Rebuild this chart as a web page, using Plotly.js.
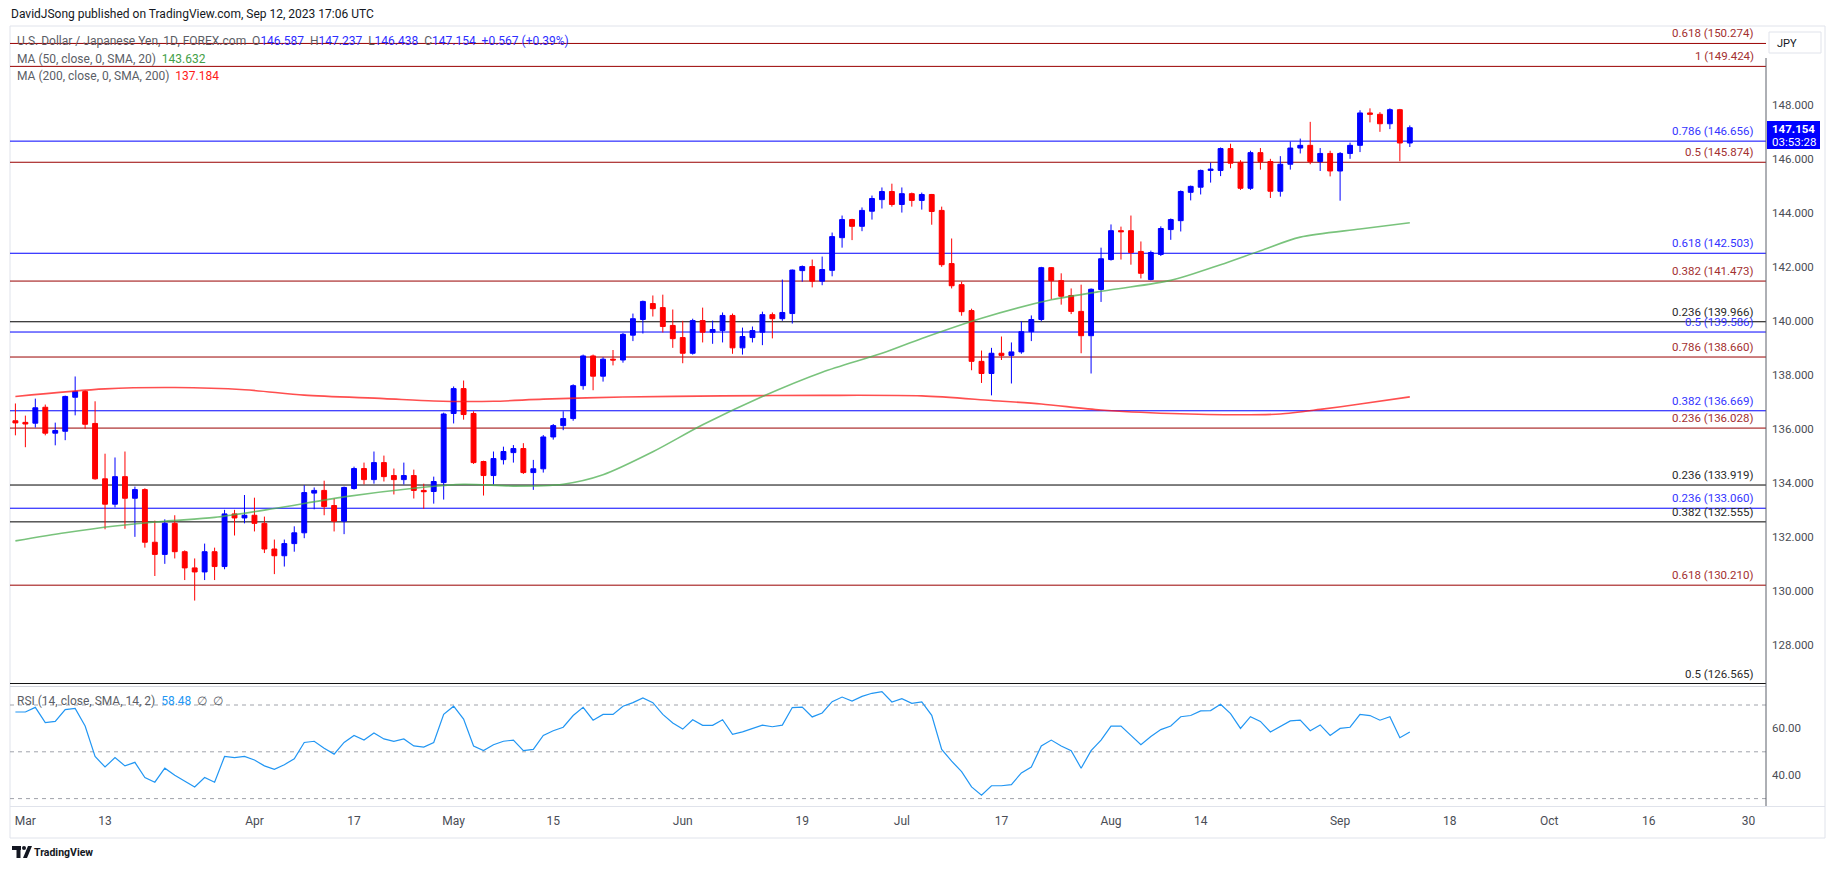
<!DOCTYPE html>
<html><head><meta charset="utf-8">
<script src="https://cdn.plot.ly/plotly-3.0.1.min.js"></script>
<style>html,body{margin:0;padding:0;background:#fff;}#chart{width:1835px;height:869px;}</style>
</head><body><div id="chart"></div>
<script>
// ---------------- DATA ----------------
const dates = [
'2023-02-28',
'2023-03-01','2023-03-02','2023-03-03','2023-03-06','2023-03-07','2023-03-08','2023-03-09','2023-03-10','2023-03-13','2023-03-14','2023-03-15','2023-03-16','2023-03-17','2023-03-20','2023-03-21','2023-03-22','2023-03-23','2023-03-24','2023-03-27','2023-03-28','2023-03-29','2023-03-30','2023-03-31',
'2023-04-03','2023-04-04','2023-04-05','2023-04-06','2023-04-07','2023-04-10','2023-04-11','2023-04-12','2023-04-13','2023-04-14','2023-04-17','2023-04-18','2023-04-19','2023-04-20','2023-04-21','2023-04-24','2023-04-25','2023-04-26','2023-04-27','2023-04-28',
'2023-05-01','2023-05-02','2023-05-03','2023-05-04','2023-05-05','2023-05-08','2023-05-09','2023-05-10','2023-05-11','2023-05-12','2023-05-15','2023-05-16','2023-05-17','2023-05-18','2023-05-19','2023-05-22','2023-05-23','2023-05-24','2023-05-25','2023-05-26','2023-05-29','2023-05-30','2023-05-31',
'2023-06-01','2023-06-02','2023-06-05','2023-06-06','2023-06-07','2023-06-08','2023-06-09','2023-06-12','2023-06-13','2023-06-14','2023-06-15','2023-06-16','2023-06-19','2023-06-20','2023-06-21','2023-06-22','2023-06-23','2023-06-26','2023-06-27','2023-06-28','2023-06-29','2023-06-30',
'2023-07-03','2023-07-04','2023-07-05','2023-07-06','2023-07-07','2023-07-10','2023-07-11','2023-07-12','2023-07-13','2023-07-14','2023-07-17','2023-07-18','2023-07-19','2023-07-20','2023-07-21','2023-07-24','2023-07-25','2023-07-26','2023-07-27','2023-07-28','2023-07-31',
'2023-08-01','2023-08-02','2023-08-03','2023-08-04','2023-08-07','2023-08-08','2023-08-09','2023-08-10','2023-08-11','2023-08-14','2023-08-15','2023-08-16','2023-08-17','2023-08-18','2023-08-21','2023-08-22','2023-08-23','2023-08-24','2023-08-25','2023-08-28','2023-08-29','2023-08-30','2023-08-31',
'2023-09-01','2023-09-04','2023-09-05','2023-09-06','2023-09-07','2023-09-08','2023-09-11','2023-09-12'];

const openP = [136.30,
136.24,136.21,136.80,135.84,135.91,137.17,137.38,136.20,134.15,133.21,134.23,133.43,133.75,131.80,131.35,132.50,131.45,130.85,130.70,131.45,130.90,132.85,132.70,
132.80,132.50,131.55,131.30,131.75,132.15,133.62,133.72,133.16,132.58,133.79,134.53,134.12,134.75,134.27,134.12,134.27,133.72,133.68,134.01,
136.57,137.49,136.57,134.79,134.27,134.86,135.12,135.27,134.38,134.52,135.70,136.12,136.38,137.60,138.70,137.95,138.58,138.55,139.47,140.05,140.64,140.49,139.83,
139.38,138.80,140.01,139.58,139.64,140.20,139.00,139.38,139.58,140.23,140.08,140.27,141.86,142.01,141.47,141.87,143.08,143.75,143.50,144.06,144.49,144.79,
144.31,144.71,144.46,144.68,144.09,142.12,141.34,140.38,138.50,138.05,138.80,138.72,138.85,139.60,140.05,141.97,141.49,140.94,140.35,139.45,141.16,
142.27,143.34,143.34,142.57,141.53,142.46,143.38,143.71,144.76,144.95,145.57,145.57,146.38,145.87,144.91,146.23,145.90,144.80,145.80,146.40,146.50,145.90,146.20,
145.55,146.20,146.50,147.70,147.65,147.30,147.82,146.587];

const highP = [136.94,
136.49,137.12,136.90,136.23,137.23,137.94,137.43,137.02,135.08,134.94,135.16,133.86,133.80,132.60,132.65,132.80,131.50,131.20,131.75,131.60,133.00,133.00,133.55,
133.45,132.75,131.90,131.90,132.39,133.91,133.83,134.08,133.42,133.86,134.60,134.75,135.16,135.01,134.53,134.75,134.49,133.97,134.23,136.60,
137.57,137.79,136.65,134.82,135.16,135.34,135.40,135.47,134.85,135.77,136.18,136.65,137.65,138.75,138.75,138.65,138.92,139.55,140.27,140.75,140.94,140.97,140.42,
140.00,140.08,140.49,140.01,140.31,140.27,139.75,139.79,140.34,140.31,141.53,141.90,142.05,142.27,142.38,143.27,143.90,143.78,144.20,144.64,144.94,145.08,
144.94,144.75,144.75,144.70,144.23,143.05,141.45,140.45,138.90,139.00,139.42,139.20,139.98,140.20,142.00,141.99,141.76,141.20,141.34,141.20,142.71,
143.57,143.49,143.90,142.94,142.60,143.50,143.79,144.83,145.01,145.60,145.86,146.42,146.56,145.95,146.30,146.40,146.00,146.10,146.64,146.75,147.37,146.40,146.30,
146.25,146.60,147.80,147.87,147.73,147.87,147.85,147.237];

const lowP = [135.76,
135.32,136.05,135.76,135.39,135.58,136.50,136.00,134.12,132.28,133.09,132.30,132.00,131.60,130.55,131.00,131.20,130.40,129.64,130.40,130.40,130.80,132.05,132.50,
132.20,131.40,130.62,130.90,131.45,131.95,133.02,132.80,132.20,132.10,133.75,133.94,133.97,134.05,133.57,133.94,133.42,133.04,133.23,133.38,
136.20,136.34,134.70,133.53,133.94,134.68,134.75,134.33,133.74,134.38,135.60,135.95,136.30,137.45,137.43,137.75,138.35,138.45,139.25,139.53,140.16,139.57,139.00,
138.43,138.75,139.20,139.15,139.20,138.78,138.75,139.20,139.10,139.35,140.00,139.90,141.45,141.24,141.32,141.65,142.71,142.99,143.32,143.75,144.16,144.23,
144.01,144.23,144.12,143.56,142.00,141.20,140.19,138.17,137.70,137.24,138.55,137.68,138.78,139.25,139.98,140.80,140.60,140.25,138.80,138.05,140.70,
142.23,142.27,142.08,141.57,141.50,142.40,143.00,143.31,144.46,144.68,145.12,145.36,145.65,144.85,144.85,145.60,144.55,144.60,145.60,146.20,145.80,145.55,145.35,
144.45,146.00,146.25,147.35,147.00,147.10,145.91,146.438];

const closeP = [136.22,
136.18,136.78,135.84,135.94,137.20,137.38,136.17,134.15,133.21,134.23,133.43,133.75,131.80,131.35,132.50,131.45,130.85,130.70,131.45,130.90,132.85,132.70,132.80,
132.50,131.55,131.30,131.75,132.15,133.64,133.72,133.12,132.58,133.83,134.53,134.12,134.75,134.23,134.12,134.27,133.72,133.67,134.05,136.55,
137.49,136.53,134.75,134.27,134.90,135.16,135.27,134.38,134.52,135.70,136.12,136.38,137.60,138.70,137.95,138.58,138.55,139.50,140.08,140.72,140.45,139.79,139.34,
138.80,140.01,139.58,139.68,140.20,139.00,139.42,139.64,140.23,140.08,140.31,141.88,142.01,141.47,141.90,143.12,143.75,143.50,144.09,144.53,144.79,144.31,
144.71,144.46,144.68,144.05,142.08,141.30,140.34,138.50,138.05,138.80,138.72,138.85,139.60,140.05,141.97,141.49,140.91,140.35,139.45,141.17,142.30,
143.34,143.30,142.53,141.76,142.53,143.42,143.75,144.79,144.98,145.57,145.62,146.38,145.84,144.91,146.23,145.90,144.80,145.80,146.40,146.50,145.90,146.20,145.55,
146.20,146.50,147.70,147.65,147.30,147.82,146.587,147.154];

const rsiVals = [67,
67,69,62.5,63,68,68.5,61,48,43.5,47.5,44,45.5,39,37,43,40,37.5,35,39,37,48,47.5,48,
46.5,44,42.5,44.5,47,54,54.5,51.5,49,54,57,55,58,55.5,54.5,55.5,52.5,52,54,66,
69.5,64,52.5,50.5,53,54.5,55,50.5,51,57,59,60.5,65.5,69,63.5,66,66,69.5,71,73,71,66,62.3,
59.7,63.7,61.3,61.3,63.7,57.5,58.5,60,61.4,60.7,61.4,68.9,69.1,64.9,66.6,71.4,73.4,71.7,73.7,75,75.7,71.3,
72.7,70.7,71.3,65.6,51,46,41.5,35,31.5,35.5,35.5,36,41,43.5,52.5,55,52.5,50.5,43,50.5,55,
61,61,57,53,56.5,59.5,61,65,65.5,67.5,67.6,70.3,66.3,60,65,63,58.5,61,63.2,63.5,59,61.5,57,
60,60.5,66,65.5,63.5,65,56,58.48];

const ma50Dates = ['2023-02-28','2023-03-07','2023-03-14','2023-03-21','2023-03-28','2023-04-05','2023-04-14','2023-04-25','2023-05-02','2023-05-09','2023-05-16','2023-05-22','2023-05-29','2023-06-05','2023-06-13','2023-06-21','2023-06-29','2023-07-05','2023-07-13','2023-07-24','2023-08-01','2023-08-09','2023-08-16','2023-08-22','2023-08-28','2023-09-05','2023-09-12'];
const ma50Vals = [131.85,132.15,132.40,132.58,132.72,133.05,133.48,133.80,133.95,133.88,133.95,134.30,135.15,136.15,137.20,138.10,138.80,139.35,140.10,140.78,141.15,141.50,142.08,142.60,143.10,143.40,143.632];

const ma200Dates = ['2023-02-28','2023-03-13','2023-03-22','2023-03-31','2023-04-10','2023-04-20','2023-04-27','2023-05-05','2023-05-12','2023-05-24','2023-06-07','2023-06-21','2023-07-05','2023-07-14','2023-07-21','2023-07-31','2023-08-09','2023-08-18','2023-08-24','2023-08-30','2023-09-05','2023-09-12'];
const ma200Vals = [137.20,137.48,137.53,137.45,137.25,137.12,137.03,137.02,137.10,137.18,137.22,137.24,137.22,137.05,136.92,136.70,136.57,136.52,136.55,136.72,136.92,137.184];

const fibLevels = [150.274,149.424,146.656,145.874,142.503,141.473,139.966,139.586,138.660,136.669,136.028,133.919,133.060,132.555,130.210,126.565];
const fibRatios = ['0.618','1','0.786','0.5','0.618','0.382','0.236','0.5','0.786','0.382','0.236','0.236','0.236','0.382','0.618','0.5'];
const fibSets   = ['red','red','blue','red','blue','red','black','blue','red','blue','red','black','blue','black','red','black'];

const tickDates = ['2023-03-01','2023-03-13','2023-04-03','2023-04-17','2023-05-01','2023-05-15','2023-06-01','2023-06-19','2023-07-03','2023-07-17','2023-08-01','2023-08-14','2023-09-01','2023-09-18','2023-10-02','2023-10-16','2023-10-30'];
const tickText  = ['Mar','13','Apr','17','May','15','Jun','19','Jul','17','Aug','14','Sep','18','Oct','16','30'];
const priceTicks = [128,130,132,134,136,138,140,142,144,146,148];
const rsiTicks = [40,60];
const rsiBands = [70,50,30];

// ---------------- LAYOUT GEOMETRY ----------------
const W = 1835, H = 869, L = 10, R = 1766, T = 28, B = 806;
const px = x => (x - L) / (R - L);
const py = y => (B - y) / (B - T);
const FONT = 'Roboto, "Liberation Sans", Arial, sans-serif';
const UP = '#0000ff', DN = '#ff0000';
const pal = {red:{line:'#990000', text:'#a33030'}, blue:{line:'#0000ff', text:'#3434ff'}, black:{line:'#000000', text:'#2a2a2a'}};

const traces = [
  {type:'scatter', mode:'lines', x:ma200Dates, y:ma200Vals, xaxis:'x', yaxis:'y',
   line:{color:'rgba(255,20,20,0.75)', width:1.6, shape:'spline', smoothing:0.8}, hoverinfo:'skip'},
  {type:'scatter', mode:'lines', x:ma50Dates, y:ma50Vals, xaxis:'x', yaxis:'y',
   line:{color:'rgba(76,175,80,0.75)', width:1.6, shape:'spline', smoothing:0.8}, hoverinfo:'skip'},
  {type:'candlestick', x:dates, open:openP, high:highP, low:lowP, close:closeP, xaxis:'x', yaxis:'y',
   increasing:{line:{color:UP, width:1}, fillcolor:UP},
   decreasing:{line:{color:DN, width:1}, fillcolor:DN},
   whiskerwidth:0, hoverinfo:'skip'},
  {type:'scatter', mode:'lines', x:dates, y:rsiVals, xaxis:'x', yaxis:'y2',
   line:{color:'#2196f3', width:1.2}, hoverinfo:'skip'}
];

const shapes = [];
shapes.push({type:'rect', xref:'paper', yref:'paper', x0:px(10), x1:px(1825), y0:py(26), y1:py(838),
  line:{color:'#e0e3eb', width:1}, fillcolor:'rgba(0,0,0,0)', layer:'below'});
fibLevels.forEach((v,i) => {
  shapes.push({type:'line', xref:'paper', yref:'y', x0:0, x1:1, y0:v, y1:v,
    line:{color:pal[fibSets[i]].line, width:1}, layer:'below'});
});
rsiBands.forEach(v => {
  shapes.push({type:'line', xref:'paper', yref:'y2', x0:0, x1:1, y0:v, y1:v,
    line:{color:'#a0a3ab', width:1, dash:'4px,4px'}, layer:'below'});
});
shapes.push({type:'line', xref:'paper', yref:'paper', x0:0, x1:1, y0:py(686.5), y1:py(686.5), line:{color:'#d1d4dc', width:1}});
shapes.push({type:'line', xref:'paper', yref:'paper', x0:0, x1:px(1825), y0:py(806.5), y1:py(806.5), line:{color:'#e0e3eb', width:1}});
shapes.push({type:'line', xref:'paper', yref:'paper', x0:1, x1:1, y0:py(58), y1:py(806), line:{color:'#5d606b', width:1}});
shapes.push({type:'rect', xref:'paper', yref:'paper', x0:px(1767), x1:px(1820), y0:py(121), y1:py(149),
  line:{width:0}, fillcolor:'#0000ff'});
shapes.push({type:'rect', xref:'paper', yref:'paper', x0:px(1769), x1:px(1821), y0:py(32), y1:py(53),
  line:{color:'#e0e3eb', width:1}, fillcolor:'#ffffff'});
shapes.push({type:'rect', xref:'paper', yref:'paper', x0:px(12), x1:px(21), y0:py(846), y1:py(850), line:{width:0}, fillcolor:'#131722'});
shapes.push({type:'rect', xref:'paper', yref:'paper', x0:px(16.5), x1:px(20.5), y0:py(846), y1:py(858), line:{width:0}, fillcolor:'#131722'});
shapes.push({type:'circle', xref:'paper', yref:'paper', x0:px(22), x1:px(26), y0:py(846), y1:py(850), line:{width:0}, fillcolor:'#131722'});
shapes.push({type:'path', xref:'paper', yref:'paper',
  path:`M ${px(28)} ${py(846)} L ${px(32)} ${py(846)} L ${px(27)} ${py(858)} L ${px(23)} ${py(858)} Z`, line:{width:0}, fillcolor:'#131722'});

const ann = [];
fibLevels.forEach((v,i) => {
  ann.push({xref:'paper', yref:'y', x:px(1756), y:v, xanchor:'right', yanchor:'bottom', yshift:1,
    text:`${fibRatios[i]} (${v.toFixed(3)})`, showarrow:false,
    font:{family:FONT, size:11.5, color:pal[fibSets[i]].text}});
});
const n = dates.length - 1;
const chg = closeP[n] - closeP[n-1];
const pct = chg / closeP[n-1] * 100;
const G = s => `<span style="color:#5b5e66">${s}</span>`;
const Bl = s => `<span style="color:#2e2eff">${s}</span>`;
const legend1 = G('U.S. Dollar / Japanese Yen, 1D, FOREX.com\u00a0 O') + Bl(openP[n].toFixed(3)) +
  G('\u00a0 H') + Bl(highP[n].toFixed(3)) + G('\u00a0 L') + Bl(lowP[n].toFixed(3)) +
  G('\u00a0 C') + Bl(closeP[n].toFixed(3)) +
  Bl('\u00a0 ' + (chg >= 0 ? '+' : '') + chg.toFixed(3) + ' (' + (pct >= 0 ? '+' : '') + pct.toFixed(2) + '%)');
const legend2 = G('MA (50, close, 0, SMA, 20)\u00a0 ') + `<span style="color:#43a047">${ma50Vals[ma50Vals.length-1].toFixed(3)}</span>`;
const legend3 = G('MA (200, close, 0, SMA, 200)\u00a0 ') + `<span style="color:#ff1a1a">${ma200Vals[ma200Vals.length-1].toFixed(3)}</span>`;
const legend4 = G('RSI (14, close, SMA, 14, 2)\u00a0 ') + `<span style="color:#2196f3">${rsiVals[n].toFixed(2)}</span>` + G('\u00a0 \u2205\u00a0 \u2205');

const addText = (x, y, text, size, color, anchor) => ann.push({xref:'paper', yref:'paper', x:px(x), y:py(y),
  xanchor:anchor || 'left', yanchor:'middle', text, showarrow:false, font:{family:FONT, size, color}});
addText(9, 14, 'DavidJSong published on TradingView.com, Sep 12, 2023 17:06 UTC', 12, '#131722');
addText(15, 41, legend1, 12, '#5b5e66');
addText(15, 59, legend2, 12, '#5b5e66');
addText(15, 76, legend3, 12, '#5b5e66');
addText(15, 701, legend4, 12, '#5b5e66');
addText(1787, 43, 'JPY', 11, '#131722', 'center');
addText(1793.5, 129, '<b>' + closeP[n].toFixed(3) + '</b>', 11.5, '#ffffff', 'center');
addText(1793.5, 142, '03:53:28', 11.5, '#ffffff', 'center');
addText(32, 852, '<b>TradingView</b>', 10.5, '#131722');

const layout = {
  width:W, height:H,
  margin:{l:L, r:W - R, t:T, b:H - B, pad:0},
  paper_bgcolor:'#ffffff', plot_bgcolor:'#ffffff',
  showlegend:false,
  font:{family:FONT, size:12, color:'#4a4d55'},
  boxgap:0.3,
  xaxis:{type:'date', anchor:'y2', range:['2023-02-27 11:00','2023-10-31 18:15'],
    rangebreaks:[{bounds:['sat','mon']}], rangeslider:{visible:false},
    tickmode:'array', tickvals:tickDates, ticktext:tickText, ticks:'', ticklabelstandoff:6,
    tickfont:{family:FONT, size:12, color:'#4a4d55'},
    showgrid:false, zeroline:false, showline:false, fixedrange:true},
  yaxis:{domain:[(B - 684) / (B - T), 1], range:[126.55, 150.846], side:'right', anchor:'x',
    tickmode:'array', tickvals:priceTicks, tickformat:'.3f', ticks:'', ticklabelstandoff:5,
    tickfont:{family:FONT, size:11.5, color:'#4a4d55'},
    showgrid:false, zeroline:false, showline:false, fixedrange:true},
  yaxis2:{domain:[0, (B - 687) / (B - T)], range:[26.84, 77.69], side:'right', anchor:'x',
    tickmode:'array', tickvals:rsiTicks, tickformat:'.2f', ticks:'', ticklabelstandoff:5,
    tickfont:{family:FONT, size:11.5, color:'#4a4d55'},
    showgrid:false, zeroline:false, showline:false, fixedrange:true},
  shapes, annotations:ann
};

Plotly.newPlot('chart', traces, layout, {displayModeBar:false, staticPlot:true});
</script></body></html>
